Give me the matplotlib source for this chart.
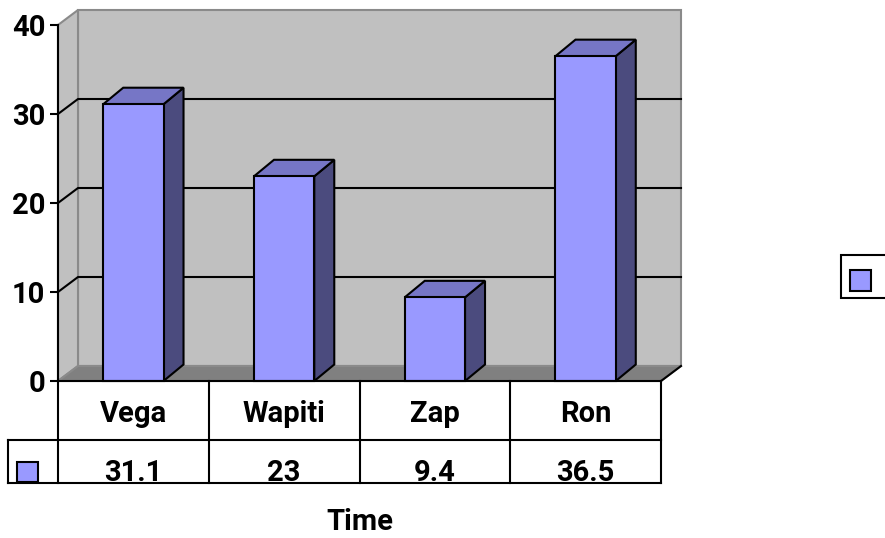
import matplotlib
matplotlib.use("Agg")
import matplotlib.pyplot as plt
from matplotlib.patches import Polygon, Rectangle
from matplotlib.transforms import Affine2D

# ---- data -------------------------------------------------------------
categories = ["Vega", "Wapiti", "Zap", "Ron"]
values = [31.1, 23, 9.4, 36.5]
value_labels = ["31.1", "23", "9.4", "36.5"]
y_ticks = [0, 10, 20, 30, 40]
axis_title = "Time"

# ---- style ------------------------------------------------------------
plt.rcParams["font.family"] = ["Roboto", "DejaVu Sans"]
FRONT = "#9999FF"
TOP = "#7676C6"
SIDE = "#4B4B7E"
WALL = "#C0C0C0"
FLOOR = "#808080"
EDGE_GRAY = "#8A8A8A"
FS = 21

W, H = 885, 538
fig = plt.figure(figsize=(W / 100, H / 100), dpi=100)

# front face of the plot area, in pixels
left_px, right_px, top_px, bottom_px = 58, 661, 25, 381
ax = fig.add_axes([left_px / W, 1 - bottom_px / H,
                   (right_px - left_px) / W, (bottom_px - top_px) / H])
n = len(categories)
ax.set_xlim(-0.5, n - 0.5)
ax.set_ylim(0, 40)
ax.patch.set_visible(False)

px_x = (right_px - left_px) / n      # pixels per category
px_y = (bottom_px - top_px) / 40.0   # pixels per value unit

# depth of the 3-D box, converted to data units
wdx, wdy = 20 / px_x, 15 / px_y
bdx, bdy = 20 / px_x, 16.5 / px_y
x0, x1 = -0.5, n - 0.5
ymax = 40

# walls and floor
ax.add_patch(Polygon([(x0 + wdx, wdy), (x1 + wdx, wdy), (x1 + wdx, ymax + wdy),
                      (x0 + wdx, ymax + wdy)], closed=True, fc=WALL, ec=EDGE_GRAY,
                     lw=1.5, zorder=0, clip_on=False))
ax.add_patch(Polygon([(x0, 0), (x0 + wdx, wdy), (x0 + wdx, ymax + wdy), (x0, ymax)],
                     closed=True, fc=WALL, ec=EDGE_GRAY, lw=1.5, zorder=0, clip_on=False))
ax.add_patch(Polygon([(x0, 0), (x1, 0), (x1 + wdx, wdy), (x0 + wdx, wdy)],
                     closed=True, fc=FLOOR, ec=EDGE_GRAY, lw=1.5, zorder=1, clip_on=False))
ax.plot([x1, x1 + wdx], [0, wdy], color="black", lw=1.5, zorder=1.5,
        clip_on=False, solid_capstyle="projecting")

# gridlines on side and back wall
for t in y_ticks[1:-1]:
    ax.plot([x0, x0 + wdx, x1 + wdx], [t, t + wdy, t + wdy], color="black",
            lw=1.5, zorder=2, clip_on=False)

# 3-D columns
hw = 0.2
for i, v in enumerate(values):
    l, r = i - hw, i + hw
    ax.add_patch(Polygon([(r, 0), (r + bdx, bdy), (r + bdx, v + bdy), (r, v)],
                         closed=True, fc=SIDE, ec="black", lw=1.5, zorder=3,
                         joinstyle="miter", clip_on=False))
    ax.add_patch(Polygon([(l, v), (r, v), (r + bdx, v + bdy), (l + bdx, v + bdy)],
                         closed=True, fc=TOP, ec="black", lw=1.5, zorder=3,
                         joinstyle="miter", clip_on=False))
    ax.add_patch(Rectangle((l, 0), 2 * hw, v, fc=FRONT, ec="black", lw=1.5,
                           zorder=4, joinstyle="miter", clip_on=False))

# value axis
for s in ["top", "right", "bottom"]:
    ax.spines[s].set_visible(False)
ax.spines["left"].set_linewidth(1.5)
ax.spines["left"].set_zorder(5)
ax.set_xticks([])
ax.set_yticks(y_ticks)
ax.set_yticklabels([str(t) for t in y_ticks], fontsize=FS, fontweight="bold")
ax.tick_params(axis="y", direction="out", length=6, width=1.5, pad=3)

# data table under the plot
def ypx(p):
    return (bottom_px - p) / px_y

def xpx(p):
    return x0 + (p - left_px) / px_x

r1, r2 = ypx(440), ypx(483)
xk = xpx(8)
tbl = dict(color="black", lw=1.5, zorder=5, clip_on=False, solid_capstyle="projecting")
ax.plot([x0, x1], [0, 0], **tbl)
ax.plot([xk, x1], [r1, r1], **tbl)
ax.plot([xk, x1], [r2, r2], **tbl)
ax.plot([xk, xk], [r1, r2], **tbl)
for b in range(n + 1):
    ax.plot([b - 0.5, b - 0.5], [0, r2], **tbl)
for i, (c, lab) in enumerate(zip(categories, value_labels)):
    ax.text(i, ypx(422), c, ha="center", va="baseline", fontsize=FS,
            fontweight="bold", zorder=6, clip_on=False)
    ax.text(i, ypx(481), lab, ha="center", va="baseline", fontsize=FS,
            fontweight="bold", zorder=6, clip_on=False)
ax.add_patch(Rectangle((xpx(17), ypx(482)), 21 / px_x, 20 / px_y, fc=FRONT,
                       ec="black", lw=1.5, zorder=6, clip_on=False))

# axis title and legend, in figure pixels
pix = Affine2D().scale(1, -1).translate(0, H)
fig.text(359.5, 530, axis_title, transform=pix, ha="center", va="baseline",
         fontsize=FS, fontweight="bold")
fig.patches.append(Rectangle((841, 255), 60, 43, transform=pix, fc="white",
                             ec="black", lw=1.5))
fig.patches.append(Rectangle((850, 270), 21, 21, transform=pix, fc=FRONT,
                             ec="black", lw=1.5))

fig.savefig("out.png", dpi=100)
